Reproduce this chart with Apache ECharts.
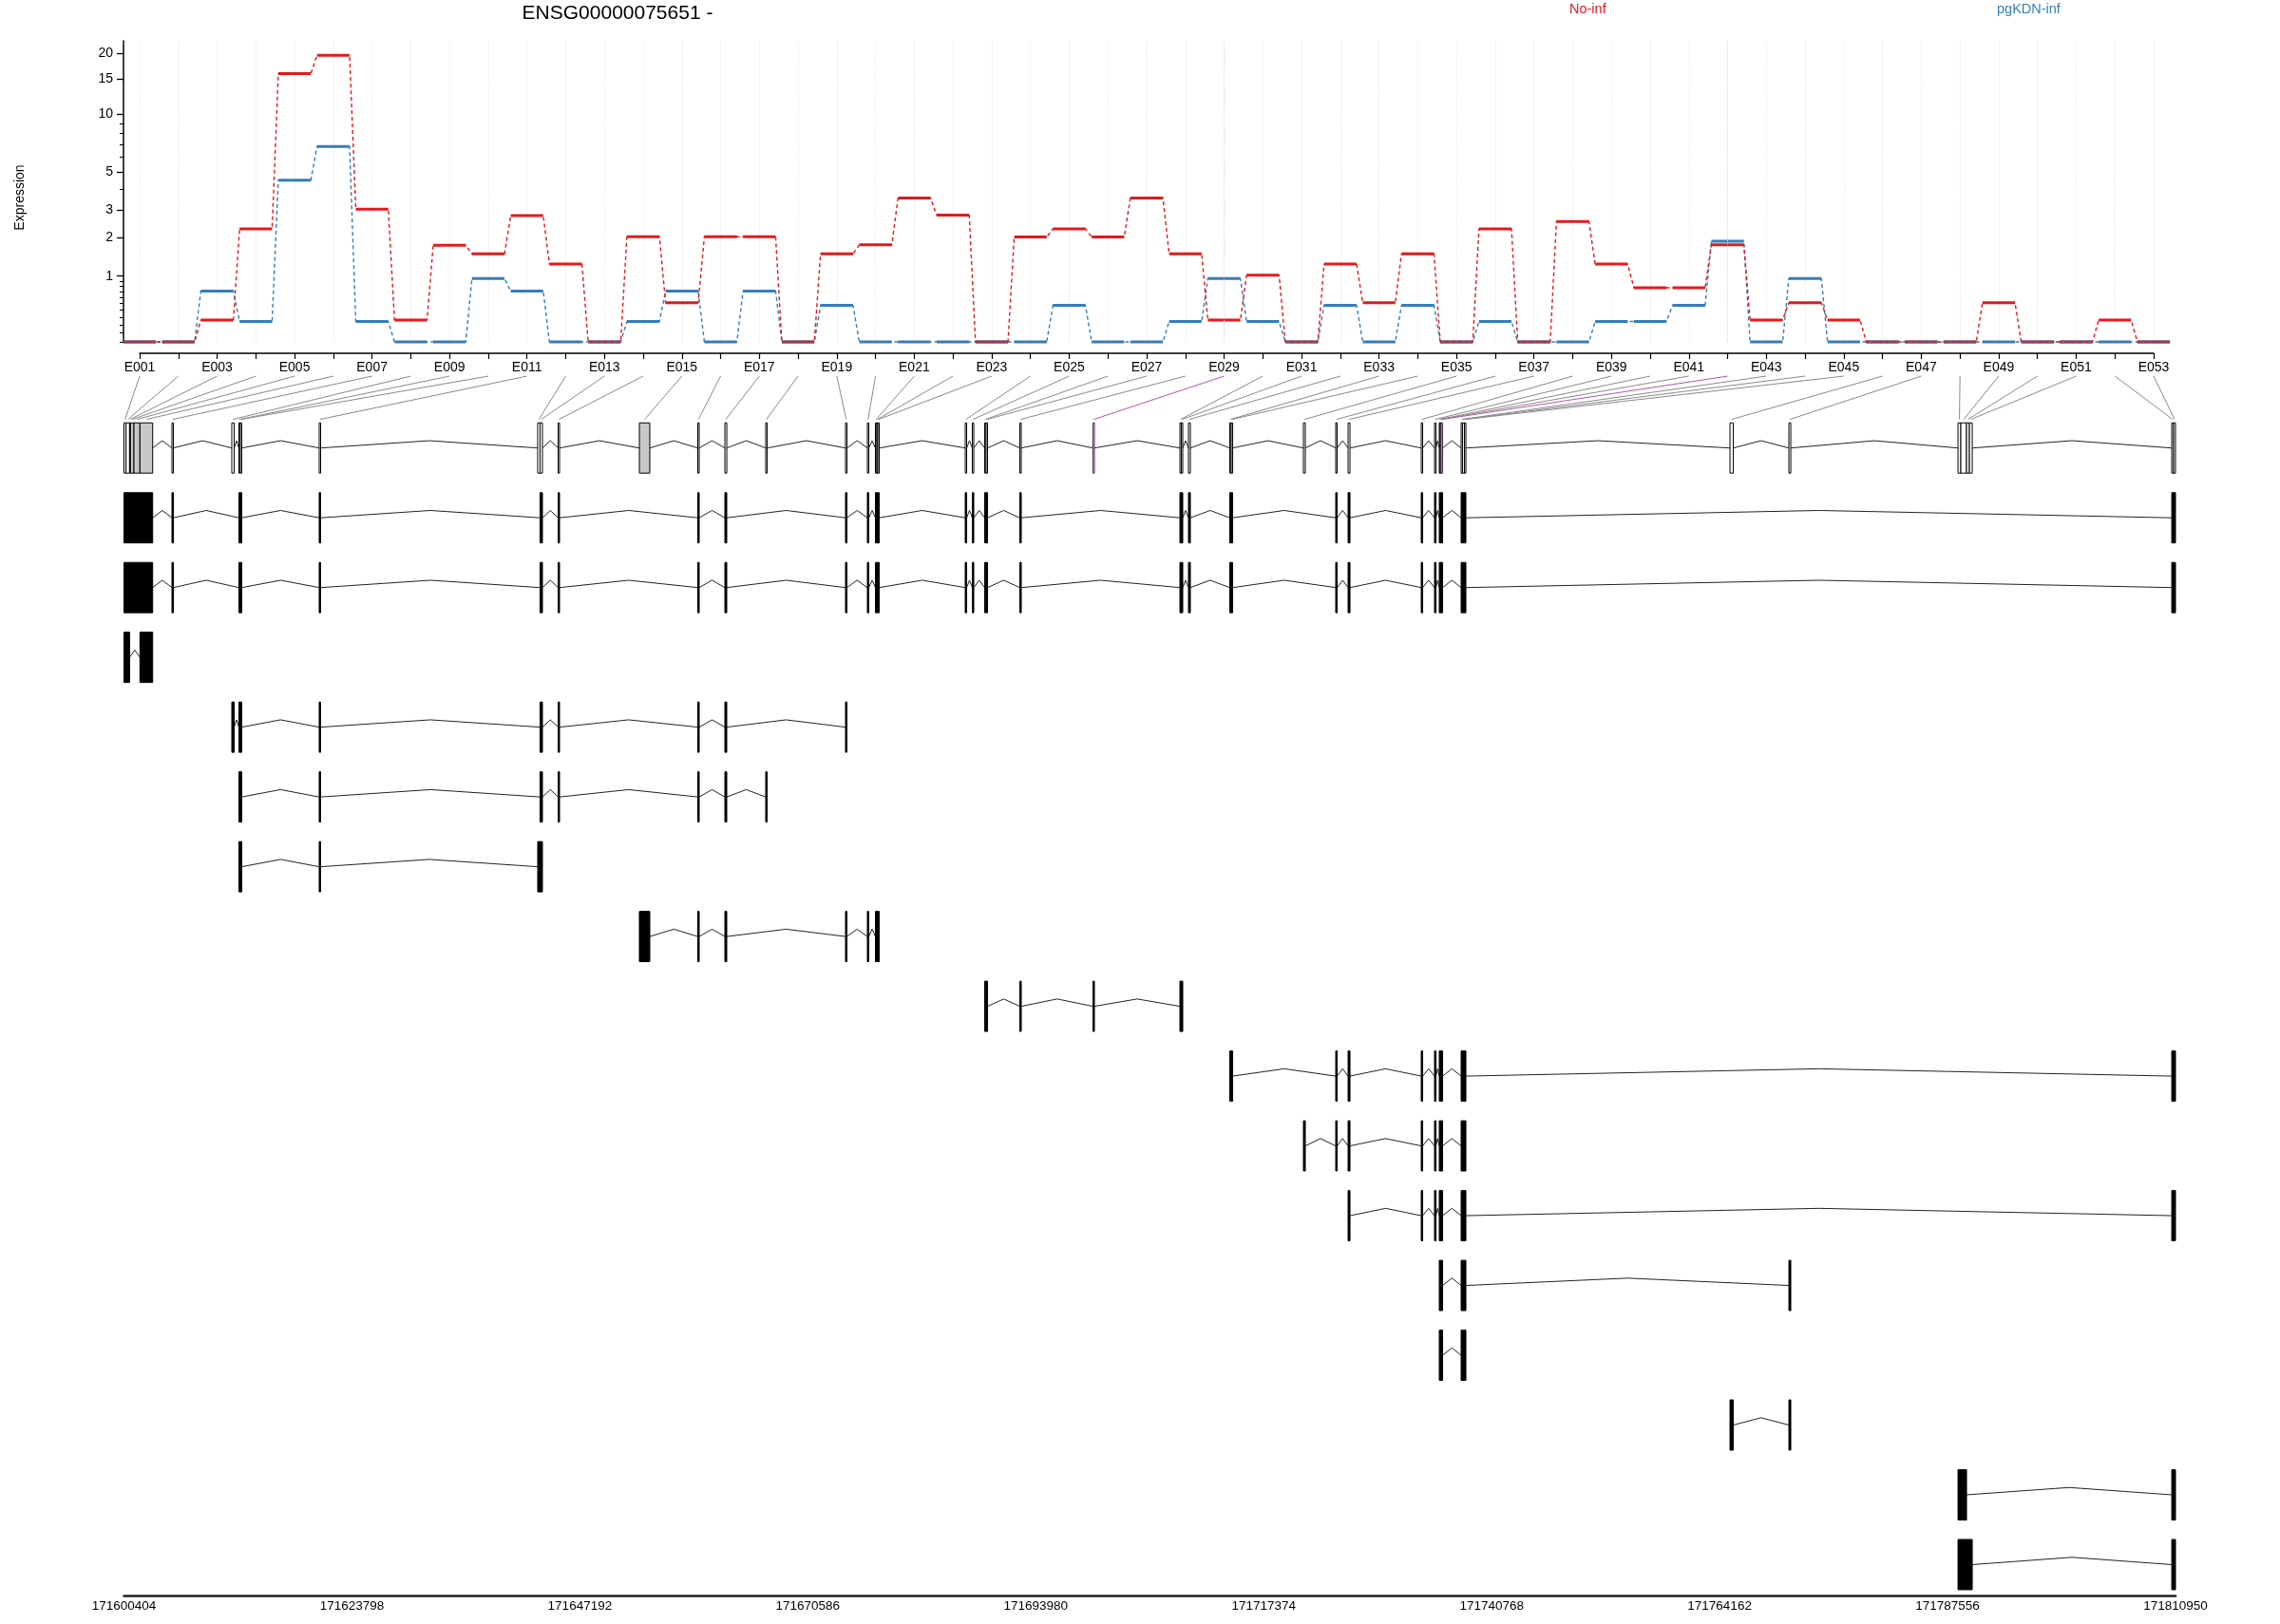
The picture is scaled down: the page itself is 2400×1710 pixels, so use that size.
<!DOCTYPE html>
<html><head><meta charset="utf-8">
<script src="https://cdn.jsdelivr.net/npm/echarts@6/dist/echarts.min.js"></script>
<style>html,body{margin:0;padding:0;background:#fff}#c{width:2400px;height:1710px}</style>
</head><body><div id="c"></div>
<script>
// ---------------- data ----------------
const exonIds = ['E001','E002','E003','E004','E005','E006','E007','E008','E009','E010',
 'E011','E012','E013','E014','E015','E016','E017','E018','E019','E020',
 'E021','E022','E023','E024','E025','E026','E027','E028','E029','E030',
 'E031','E032','E033','E034','E035','E036','E037','E038','E039','E040',
 'E041','E042','E043','E044','E045','E046','E047','E048','E049','E050',
 'E051','E052','E053'];
const noInf = [0,0,0.26,2.29,15.9,19.5,3.05,0.26,1.77,1.53,
 2.79,1.27,0,2.03,0.51,2.03,2.03,0,1.53,1.78,
 3.56,2.80,0,2.02,2.29,2.02,3.56,1.53,0.26,1.02,
 0,1.27,0.51,1.53,0,2.29,0,2.56,1.27,0.77,
 0.77,1.78,0.26,0.51,0.26,0,0,0,0.51,0,
 0,0.26,0];
const pgKDN = [0,0,0.71,0.24,4.49,6.85,0.24,0,0,0.95,
 0.71,0,0,0.24,0.71,0,0.71,0,0.47,0,
 0,0,0,0,0.47,0,0,0.24,0.95,0.24,
 0,0.47,0,0.47,0,0.24,0,0,0.24,0.24,
 0.47,1.89,0,0.95,0,0,0,0,0,0,
 0,0,0];
const yTickValues = [1,2,3,5,10,15,20];
const yMinorValues = [0,0.1,0.2,0.3,0.4,0.5,0.6,0.7,0.8,0.9,4,6,7,8,9];
const binStart = [171600404,171600619,171600979,171601067,171601428,171602042,171605328,171611470,171612202,171612348,
 171620440,171642865,171643109,171644962,171653298,171659294,171662073,171666265,171674455,171676698,
 171677527,171677673,171677770,171686740,171687472,171688739,171688885,171692347,171699854,171708775,
 171708922,171709653,171713894,171714040,171721450,171724765,171726033,171733540,171734905,171735393,
 171735490,171735588,171737635,171737782,171737977,171765228,171771273,171788628,171788920,171789505,
 171789798,171810565,171810760];
const binEnd = [171600619,171600979,171601067,171601428,171602042,171603349,171605474,171611714,171612348,171612494,
 171620587,171643109,171643353,171645108,171654370,171659440,171662268,171666412,171674602,171676844,
 171677673,171677770,171677917,171686887,171687618,171688885,171689032,171692493,171700000,171708922,
 171709068,171709848,171714040,171714187,171721645,171724912,171726228,171733687,171735052,171735490,
 171735588,171735734,171737782,171737977,171738123,171765569,171771468,171788920,171789505,171789798,
 171790090,171810760,171810950];
const grayBins = ['E004','E005','E006','E015'];
const sigBins = ['E029','E042'];
const transcripts = [
 [1,2,3,4,5,6,7,9,10,11,13,14,16,17,19,20,21,22,23,24,25,26,27,28,30,31,32,33,34,36,37,38,39,40,41,42,43,44,45,52,53],
 [1,2,3,4,5,6,7,9,10,11,13,14,16,17,19,20,21,22,23,24,25,26,27,28,30,31,32,33,34,36,37,38,39,40,41,42,43,44,45,52,53],
 [1,2,6],
 [8,9,10,11,13,14,16,17,19],
 [9,10,11,13,14,16,17,18],
 [9,10,11,12,13],
 [15,16,17,19,20,21,22,23],
 [26,27,28,29,30,31],
 [33,34,36,37,38,39,40,41,42,43,44,45,52,53],
 [35,36,37,38,39,40,41,42,43,44,45],
 [37,38,39,40,41,42,43,44,45,52,53],
 [40,41,42,43,44,45,47],
 [40,41,42,43,44,45],
 [46,47],
 [48,49,52,53],
 [48,49,50,51,52,53]
];
const genomicTicks = [171600404,171623798,171647192,171670586,171693980,171717374,171740768,171764162,171787556,171810950];
const geneTitle = 'ENSG00000075651 -';
const condNames = ['No-inf','pgKDN-inf'];

// ---------------- style ----------------
const FONT = '"Liberation Sans", Arial, Helvetica, sans-serif';
const RED = '#E41A1C', BLUE = '#377EB8', OVERLAP = '#9b3a4c', PURPLE = '#b155b1', BIN_SIG = '#4a2250';
const HALF = 0.42;      // half width of an exon step (in exon units)
const BOX_H = 0.72;     // exon box height (in row units)
const PEAK = 0.105;     // intron peak height (row units)

const tr = v => Math.log10(v + 1);

// ---------------- derived data ----------------
function stepPoints(vals) {
  const pts = [];
  vals.forEach((v, i) => { pts.push([i + 1 - HALF, tr(v)]); pts.push([i + 1 + HALF, tr(v)]); });
  return pts;
}
const blueSeg = pgKDN.map((v, i) => [i + 1, tr(v), 0]);
const redSeg = noInf.map((v, i) => [i + 1, tr(v), v === pgKDN[i] ? 1 : 0]);

const binData = exonIds.map((id, i) => [binStart[i], binEnd[i], 0,
  sigBins.includes(id) ? 2 : (grayBins.includes(id) ? 1 : 0)]);
const binIntrons = [];
for (let i = 0; i < exonIds.length - 1; i++) {
  if (binStart[i + 1] > binEnd[i]) binIntrons.push([binEnd[i], binStart[i + 1], 0]);
}
const txExons = [], txIntrons = [];
transcripts.forEach((bins, t) => {
  const row = t + 1;
  const ex = [];
  bins.forEach(b => {
    const s = binStart[b - 1], e = binEnd[b - 1];
    if (ex.length && s <= ex[ex.length - 1][1]) ex[ex.length - 1][1] = Math.max(e, ex[ex.length - 1][1]);
    else ex.push([s, e]);
  });
  ex.forEach((x, k) => {
    txExons.push([x[0], x[1], row]);
    if (k > 0) txIntrons.push([ex[k - 1][1], x[0], row]);
  });
});

// ---------------- render helpers ----------------
function segRender(color) {
  return function (params, api) {
    const x = api.value(0), y = api.value(1);
    const a = api.coord([x - HALF, y]), b = api.coord([x + HALF, y]);
    const c = api.value(2) === 1 ? OVERLAP : color;
    return {type: 'line', shape: {x1: a[0], y1: a[1], x2: b[0], y2: b[1]},
      style: {stroke: c, lineWidth: 3, fill: 'none'}};
  };
}
function boxRender(kind) {
  return function (params, api) {
    const row = api.value(2);
    const a = api.coord([api.value(0), row]);
    const b = api.coord([api.value(1), row]);
    const h = Math.abs(api.size([0, BOX_H])[1]);
    const w = Math.max(b[0] - a[0], 1);
    let fill = '#000', stroke = '#000';
    if (kind === 'bin') {
      const code = api.value(3);
      fill = code === 1 ? '#c8c8c8' : '#ffffff';
      stroke = code === 2 ? BIN_SIG : '#000';
    }
    return {type: 'rect', shape: {x: a[0], y: a[1] - h / 2, width: w, height: h},
      style: {fill: fill, stroke: stroke, lineWidth: 1}};
  };
}
function intronRender(params, api) {
  const row = api.value(2), s = api.value(0), e = api.value(1);
  const a = api.coord([s, row]), b = api.coord([e, row]);
  const m = api.coord([(s + e) / 2, row - PEAK]);
  return {type: 'polyline', shape: {points: [a, m, b]},
    style: {stroke: '#222', lineWidth: 1, fill: 'none'}};
}

// ---------------- option ----------------
const option = {
  animation: false,
  backgroundColor: '#ffffff',
  textStyle: {fontFamily: FONT},
  title: [{text: geneTitle, left: 650, top: 4, textAlign: 'center', padding: 0,
    textStyle: {fontSize: 21, fontWeight: 'normal', color: '#000', fontFamily: FONT}}],
  legend: [
    {data: [{name: condNames[0], icon: 'none', textStyle: {color: RED}}], left: 1647, top: 2, padding: 0,
     itemWidth: 0, itemGap: 0, selectedMode: false, textStyle: {fontSize: 14.5, fontFamily: FONT}},
    {data: [{name: condNames[1], icon: 'none', textStyle: {color: BLUE}}], left: 2097, top: 2, padding: 0,
     itemWidth: 0, itemGap: 0, selectedMode: false, textStyle: {fontSize: 14.5, fontFamily: FONT}}
  ],
  graphic: [{type: 'text', x: 21, y: 208, rotation: Math.PI / 2,
    style: {text: 'Expression', fontSize: 14, fontFamily: FONT, fill: '#000', align: 'center', verticalAlign: 'middle'}}],
  grid: [
    {left: 147, right: 133, top: 43, height: 317},
    {left: 130.5, right: 110, top: 390.9, height: 1288.9}
  ],
  xAxis: [
    {gridIndex: 0, type: 'value', min: 1, max: 53, interval: 1, offset: 12, position: 'bottom',
     axisLine: {onZero: false, lineStyle: {color: '#000', width: 1.5}},
     axisTick: {length: 6, lineStyle: {color: '#000', width: 1.2}},
     axisLabel: {formatter: v => (v % 2 === 1 ? exonIds[v - 1] : ''), fontSize: 14, color: '#000', margin: 8, fontFamily: FONT},
     splitLine: {show: true, lineStyle: {color: '#e6e6e6', type: 'dotted', width: 1}}},
    {gridIndex: 1, type: 'value', min: genomicTicks[0], max: genomicTicks[genomicTicks.length - 1], position: 'bottom',
     axisLine: {onZero: false, lineStyle: {color: '#222', width: 2.5}},
     axisTick: {show: false},
     axisLabel: {customValues: genomicTicks, formatter: v => String(Math.round(v)), fontSize: 13.5, color: '#000', margin: 4, fontFamily: FONT,
       showMinLabel: true, showMaxLabel: true},
     splitLine: {show: false}}
  ],
  yAxis: [
    {gridIndex: 0, type: 'value', min: 0, max: 1.378, offset: 17, position: 'left',
     axisLine: {show: true, onZero: false, lineStyle: {color: '#000', width: 1.5}},
     axisTick: {show: true, length: 7, customValues: yTickValues.map(tr), lineStyle: {color: '#000', width: 1.3}},
     axisLabel: {customValues: yTickValues.map(tr), fontSize: 14, color: '#000', margin: 11, fontFamily: FONT,
       formatter: v => { const t = yTickValues.find(k => Math.abs(tr(k) - v) < 1e-6); return t === undefined ? '' : String(t); }},
     splitLine: {show: false}},
    {gridIndex: 0, type: 'value', min: 0, max: 1.378, offset: 17, position: 'left',
     axisLine: {show: false, onZero: false},
     axisTick: {show: true, length: 4, customValues: yMinorValues.map(tr), lineStyle: {color: '#000', width: 1}},
     axisLabel: {show: false}, splitLine: {show: false}},
    {gridIndex: 1, type: 'value', min: -1.1, max: 16.44, inverse: true, show: false}
  ],
  series: [
    {id: 'blueDash', name: condNames[1], type: 'line', xAxisIndex: 0, yAxisIndex: 0, data: stepPoints(pgKDN),
     showSymbol: false, symbol: 'none', clip: false, lineStyle: {color: BLUE, width: 1.4, type: [4, 3]}, itemStyle: {color: BLUE},
     markLine: {silent: true, symbol: ['none', 'none'], label: {show: false},
       lineStyle: {color: '#f3c6ec', type: 'dotted', width: 1},
       data: sigBins.map(id => ({xAxis: exonIds.indexOf(id) + 1}))}},
    {id: 'blueSeg', type: 'custom', xAxisIndex: 0, yAxisIndex: 0, data: blueSeg, renderItem: segRender(BLUE), clip: false},
    {id: 'redDash', name: condNames[0], type: 'line', xAxisIndex: 0, yAxisIndex: 0, data: stepPoints(noInf),
     showSymbol: false, symbol: 'none', clip: false, lineStyle: {color: RED, width: 1.4, type: [4, 3]}, itemStyle: {color: RED}},
    {id: 'redSeg', type: 'custom', xAxisIndex: 0, yAxisIndex: 0, data: redSeg, renderItem: segRender(RED), clip: false},
    {id: 'binIntrons', type: 'custom', xAxisIndex: 1, yAxisIndex: 2, data: binIntrons, renderItem: intronRender, clip: false},
    {id: 'bins', type: 'custom', xAxisIndex: 1, yAxisIndex: 2, data: binData, renderItem: boxRender('bin'), clip: false},
    {id: 'txIntrons', type: 'custom', xAxisIndex: 1, yAxisIndex: 2, data: txIntrons, renderItem: intronRender, clip: false},
    {id: 'txExons', type: 'custom', xAxisIndex: 1, yAxisIndex: 2, data: txExons, renderItem: boxRender('tx'), clip: false}
  ]
};

const chart = echarts.init(document.getElementById('c'), null, {renderer: 'canvas'});
chart.setOption(option);

// connectors from exon ticks (top axis) to exonic bins (genomic axis)
const CONN_TOP = -1.03, CONN_BOT = -0.41;
const connData = exonIds.map((id, i) => {
  const px = chart.convertToPixel({xAxisIndex: 0}, i + 1);
  const g = chart.convertFromPixel({xAxisIndex: 1}, px);
  return [g, (binStart[i] + binEnd[i]) / 2, sigBins.includes(id) ? 1 : 0];
});
chart.setOption({series: [{id: 'conn', type: 'custom', xAxisIndex: 1, yAxisIndex: 2, data: connData, clip: false, z: 1,
  renderItem: function (params, api) {
    const a = api.coord([api.value(0), CONN_TOP]);
    const b = api.coord([api.value(1), CONN_BOT]);
    return {type: 'line', shape: {x1: a[0], y1: a[1], x2: b[0], y2: b[1]},
      style: {stroke: api.value(2) === 1 ? PURPLE : '#8a8a8a', lineWidth: 1, fill: 'none'}};
  }}]});
</script>
</body></html>
